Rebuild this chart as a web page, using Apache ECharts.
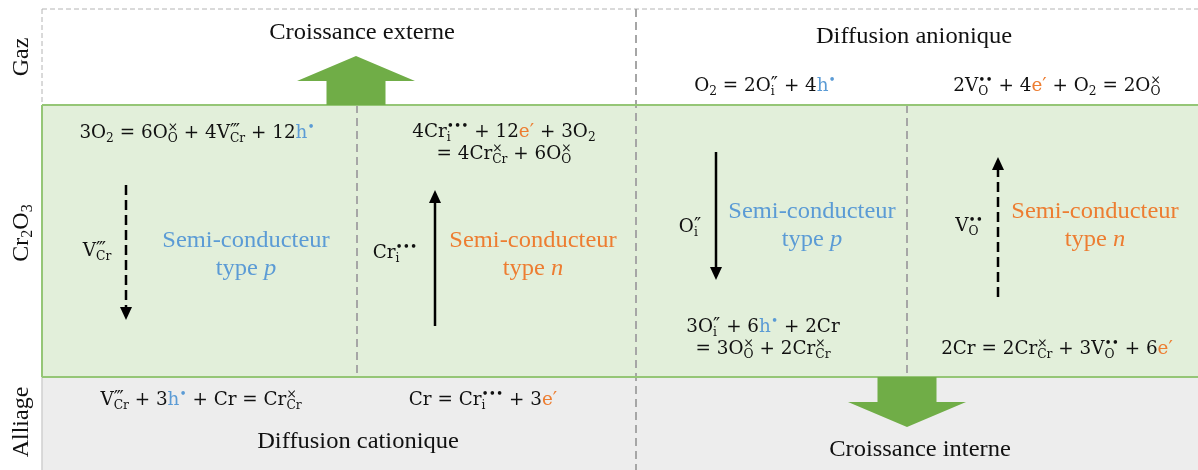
<!DOCTYPE html>
<html><head><meta charset="utf-8">
<script src="https://cdn.jsdelivr.net/npm/echarts@6/dist/echarts.min.js"></script>
<style>html,body{margin:0;padding:0;background:#fff}#c{width:1198px;height:470px}</style>
</head><body><div id="c"></div>
<script>
// ---------------- data (diagram units) ----------------
const columnEdges = [42, 357, 636, 907, 1198];        // mechanism columns
const layerEdges  = [9, 105, 377, 470];               // Gaz / Cr2O3 / Alliage
const layerNames  = ['Gaz', 'Cr_(2)O_(3)', 'Alliage'];
const layerLabelX = [22, 22, 22];
const layerLabelY = [57, 233, 422];

const titleTexts = ['Croissance externe', 'Diffusion anionique', 'Diffusion cationique', 'Croissance interne'];
const titleX = [362, 914, 358, 920];
const titleY = [33, 37, 442, 450];

const semiTypes = ['p', 'n', 'p', 'n'];
const semiX = [246, 533, 812, 1095];
const semiY = [255.5, 255.5, 226.5, 226.5];

const equationTexts = [
  '3O_(2) = 6O^(×)_(O) + 4V^(‴)_(Cr) + 12[b:h]^b(•)',
  '4Cr^(•••)_(i) + 12[o:e′] + 3O_(2)',
  '= 4Cr^(×)_(Cr) + 6O^(×)_(O)',
  'O_(2) = 2O^(″)_(i) + 4[b:h]^b(•)',
  '2V^(••)_(O) + 4[o:e′] + O_(2) = 2O^(×)_(O)',
  '3O^(″)_(i) + 6[b:h]^b(•) + 2Cr',
  '= 3O^(×)_(O) + 2Cr^(×)_(Cr)',
  '2Cr = 2Cr^(×)_(Cr) + 3V^(••)_(O) + 6[o:e′]',
  'V^(‴)_(Cr) + 3[b:h]^b(•) + Cr = Cr^(×)_(Cr)',
  'Cr = Cr^(•••)_(i) + 3[o:e′]',
  'V^(‴)_(Cr)',
  'Cr^(•••)_(i)',
  'O^(″)_(i)',
  'V^(••)_(O)'
];
const equationX = [197, 504, 504, 765, 1057, 763, 763, 1057, 201, 483, 97, 395, 690, 969];
const equationY = [133.5, 132.5, 154.5, 86.5, 86.5, 327.5, 349.5, 349.5, 400.5, 400.5, 251.5, 253.5, 227.5, 226.5];

// growth arrows: x centre, base y, tip y
const growthX = [356, 907];
const growthBase = [105, 377];
const growthTip = [56, 427];

// diffusion arrows: x, start y, tip y, dashed
const diffX = [126, 435, 716, 998];
const diffStart = [185, 326, 152, 297];
const diffTip = [320, 190, 280, 157];
const diffDashed = [true, false, false, true];

// ---------------- styling ----------------
const W = 1198, H = 470;
const PALETTE = {k: '#111111', b: '#5B9BD5', o: '#ED7D31'};
const MATH_FONT = 'DejaVu Serif';
const PRIME_FONT = 'DejaVu Sans';
const TEXT_FONT = 'Liberation Serif';
const STRETCH = 1.08;
const MATH_STRETCH = 1.02;
const GREEN = '#70AD47';
const GREEN_FILL = '#E2EFDA';
const GREEN_LINE = '#95C676';
const GREY_FILL = '#EDEDED';
const DASH_GREY = '#A6A6A6';
const PRIMES = /[′″‴]/;

const measureCtx = document.createElement('canvas').getContext('2d');
function measure(t, fam, size) { measureCtx.font = size + 'px "' + fam + '"'; return measureCtx.measureText(t).width; }

function makeRich(family, size, subSize, lh, supShift, subShift, primeSize) {
  const rich = {};
  ['n', 'sup', 'sub', 'pr', 'prs'].forEach(role => {
    ['k', 'b', 'o'].forEach(c => {
      [false, true].forEach(z => {
        const isPrime = role === 'pr' || role === 'prs';
        const st = {fontFamily: isPrime ? PRIME_FONT : family,
          fontSize: role === 'n' ? size : (isPrime ? primeSize : subSize),
          fill: PALETTE[c], color: PALETTE[c], lineHeight: lh, align: 'left', verticalAlign: 'middle'};
        if (role === 'sup') st.padding = [0, 0, 2 * supShift, 0];
        if (role === 'prs') st.padding = [0, 0, 2, 0];
        if (role === 'sub') st.padding = [2 * subShift, 0, 0, 0];
        if (z) st.width = 0;
        rich[role + c + (z ? 'z' : '')] = st;
      });
    });
  });
  return rich;
}
const MATH_SIZE = 18, MATH_SUB = 12, PRIME_SIZE = 19;
const mathRich = makeRich(MATH_FONT, MATH_SIZE, MATH_SUB, 24, 6, 5.5, PRIME_SIZE);
const layerRich = makeRich(TEXT_FONT, 24, 16, 28, 6, 6, 24);
Object.keys(layerRich).forEach(k => { layerRich[k].fill = '#111'; layerRich[k].color = '#111'; });

function toRich(src, family, subSize) {
  const re = /([\^_])([bo]?)\(([^)]*)\)|\[([bo]):([^\]]*)\]|([^\^_\[]+)/g;
  const raw = []; let m;
  while ((m = re.exec(src))) {
    if (m[1]) raw.push({role: m[1] === '^' ? 'sup' : 'sub', c: m[2] || 'k', t: m[3]});
    else if (m[4]) raw.push({role: 'n', c: m[4], t: m[5]});
    else raw.push({role: 'n', c: 'k', t: m[6]});
  }
  // split prime characters into their own tokens
  const toks = [];
  raw.forEach(tk => {
    if (PRIMES.test(tk.t)) {
      tk.t.split(/([′″‴]+)/).filter(s => s).forEach(s => {
        if (PRIMES.test(s)) toks.push({role: tk.role === 'n' ? 'pr' : 'prs', c: tk.c, t: s, script: tk.role !== 'n'});
        else toks.push({role: tk.role, c: tk.c, t: s});
      });
    } else toks.push(tk);
  });
  const isScript = tk => tk.role === 'sup' || tk.role === 'sub' || tk.role === 'prs';
  const width = tk => tk.role === 'prs' ? measure(tk.t, PRIME_FONT, PRIME_SIZE) : measure(tk.t, family, subSize);
  const out = [];
  for (let i = 0; i < toks.length; i++) {
    const a = toks[i], b = toks[i + 1];
    const upA = a.role !== 'sub', upB = b && b.role !== 'sub';
    if (isScript(a) && b && isScript(b) && upA !== upB) {
      const pair = width(a) <= width(b) ? [a, b] : [b, a];
      out.push('{' + pair[0].role + pair[0].c + 'z|' + pair[0].t + '}');
      out.push('{' + pair[1].role + pair[1].c + '|' + pair[1].t + '}');
      i++;
    } else out.push('{' + a.role + a.c + '|' + a.t + '}');
  }
  return out.join('');
}

function custom(name, n, z, render) {
  const data = [];
  for (let i = 0; i < n; i++) data.push([i, 0]);
  return {type: 'custom', name, coordinateSystem: 'cartesian2d', data, z, silent: true, animation: false,
    renderItem: (params, api) => render(params.dataIndex, api)};
}

// layer backgrounds
const layerSeries = custom('layers', 3, 1, (i, api) => {
  const p0 = api.coord([columnEdges[0], layerEdges[i]]);
  const p1 = api.coord([W, layerEdges[i + 1]]);
  const fills = ['#FFFFFF', GREEN_FILL, GREY_FILL];
  return {type: 'rect', shape: {x: p0[0], y: p0[1], width: p1[0] - p0[0], height: p1[1] - p0[1]}, style: {fill: fills[i]}};
});

// structural lines built from the edges
const lineDefs = [
  [columnEdges[0], layerEdges[0], W, layerEdges[0], 'border'],
  [columnEdges[0], layerEdges[0], columnEdges[0], layerEdges[1], 'border'],
  [columnEdges[0], layerEdges[2], columnEdges[0], layerEdges[3], 'alloy'],
  [columnEdges[2], layerEdges[0], columnEdges[2], layerEdges[3], 'divider'],
  [columnEdges[1], layerEdges[1], columnEdges[1], layerEdges[2], 'divider'],
  [columnEdges[3], layerEdges[1], columnEdges[3], layerEdges[2], 'divider'],
  [columnEdges[0], layerEdges[1], W, layerEdges[1], 'green'],
  [columnEdges[0], layerEdges[2], W, layerEdges[2], 'green'],
  [columnEdges[0], layerEdges[1], columnEdges[0], layerEdges[2], 'green']
];
const lineStyles = {
  border: {stroke: '#B4B4B4', lineWidth: 1, lineDash: [5, 3]},
  alloy: {stroke: '#CFCFCF', lineWidth: 1.5},
  divider: {stroke: DASH_GREY, lineWidth: 2, lineDash: [8, 5]},
  green: {stroke: GREEN_LINE, lineWidth: 2}
};
const lineSeries = custom('lines', lineDefs.length, 2, (i, api) => {
  const d = lineDefs[i];
  const a = api.coord([d[0], d[1]]), b = api.coord([d[2], d[3]]);
  return {type: 'line', shape: {x1: a[0], y1: a[1], x2: b[0], y2: b[1]}, style: Object.assign({fill: null}, lineStyles[d[4]])};
});

// big green growth arrows
const growthSeries = custom('growth', growthX.length, 3, (i, api) => {
  const base = api.coord([growthX[i], growthBase[i]]);
  const tip = api.coord([growthX[i], growthTip[i]]);
  const dir = tip[1] < base[1] ? -1 : 1;
  const headLen = 25, shaftHalf = 29.5, headHalf = 59;
  const neckY = tip[1] - dir * headLen;
  const x = base[0];
  return {type: 'polygon', shape: {points: [
    [x - shaftHalf, base[1]], [x - shaftHalf, neckY], [x - headHalf, neckY], [x, tip[1]],
    [x + headHalf, neckY], [x + shaftHalf, neckY], [x + shaftHalf, base[1]]]}, style: {fill: GREEN}};
});

// thin diffusion arrows
const diffSeries = custom('diffusion', diffX.length, 4, (i, api) => {
  const s = api.coord([diffX[i], diffStart[i]]);
  const t = api.coord([diffX[i], diffTip[i]]);
  const dir = t[1] < s[1] ? -1 : 1;
  const headLen = 13, headHalf = 6;
  const neck = t[1] - dir * headLen;
  return {type: 'group', children: [
    {type: 'line', shape: {x1: s[0], y1: s[1], x2: s[0], y2: neck + dir * 1},
      style: {stroke: '#000', lineWidth: 2.5, lineDash: diffDashed[i] ? [10, 5] : null, fill: null}},
    {type: 'polygon', shape: {points: [[t[0] - headHalf, neck], [t[0], t[1]], [t[0] + headHalf, neck]]}, style: {fill: '#000'}}
  ]};
});

// layer names (rotated)
const layerLabelSeries = custom('layerNames', layerNames.length, 5, (i, api) => {
  const p = api.coord([layerLabelX[i], layerLabelY[i]]);
  return {type: 'text', x: p[0], y: p[1], rotation: Math.PI / 2,
    style: {text: toRich(layerNames[i], TEXT_FONT, 16), rich: layerRich, x: 0, y: 0, align: 'center', verticalAlign: 'middle',
      fontFamily: TEXT_FONT, fontSize: 24, fill: '#111'}};
});

// titles
const titleSeries = custom('titles', titleTexts.length, 5, (i, api) => {
  const p = api.coord([titleX[i], titleY[i]]);
  return {type: 'text', x: p[0], y: p[1], scaleX: STRETCH,
    style: {text: titleTexts[i], x: 0, y: 0, align: 'center', verticalAlign: 'middle',
      fontFamily: TEXT_FONT, fontSize: 22.7, fill: '#111'}};
});

// semiconductor labels
const semiRich = {};
['p', 'n'].forEach(t => {
  const c = t === 'p' ? PALETTE.b : PALETTE.o;
  semiRich['r' + t] = {fontFamily: TEXT_FONT, fontSize: 22.7, fill: c, color: c, lineHeight: 28};
  semiRich['i' + t] = {fontFamily: TEXT_FONT, fontSize: 22.7, fill: c, color: c, lineHeight: 28, fontStyle: 'italic'};
});
const semiSeries = custom('semi', semiTypes.length, 5, (i, api) => {
  const p = api.coord([semiX[i], semiY[i]]);
  const t = semiTypes[i];
  return {type: 'text', x: p[0], y: p[1], scaleX: STRETCH,
    style: {text: '{r' + t + '|Semi-conducteur}\n{r' + t + '|type }{i' + t + '|' + t + '}', rich: semiRich,
      x: 0, y: 0, align: 'center', verticalAlign: 'middle', fontFamily: TEXT_FONT, fontSize: 22.7, lineHeight: 28}};
});

// equations
const eqSeries = custom('equations', equationTexts.length, 6, (i, api) => {
  const p = api.coord([equationX[i], equationY[i]]);
  return {type: 'text', x: p[0], y: p[1], scaleX: MATH_STRETCH,
    style: {text: toRich(equationTexts[i], MATH_FONT, MATH_SUB), rich: mathRich, x: 0, y: 0, align: 'center', verticalAlign: 'middle',
      fontFamily: MATH_FONT, fontSize: MATH_SIZE, lineHeight: 24, fill: '#111'}};
});

const chart = echarts.init(document.getElementById('c'), null, {renderer: 'canvas'});
chart.setOption({
  animation: false,
  backgroundColor: '#FFFFFF',
  grid: {left: 0, right: 0, top: 0, bottom: 0},
  xAxis: {type: 'value', min: 0, max: W, show: false},
  yAxis: {type: 'value', min: 0, max: H, inverse: true, show: false},
  series: [layerSeries, lineSeries, growthSeries, diffSeries, layerLabelSeries, titleSeries, semiSeries, eqSeries]
});
</script></body></html>
